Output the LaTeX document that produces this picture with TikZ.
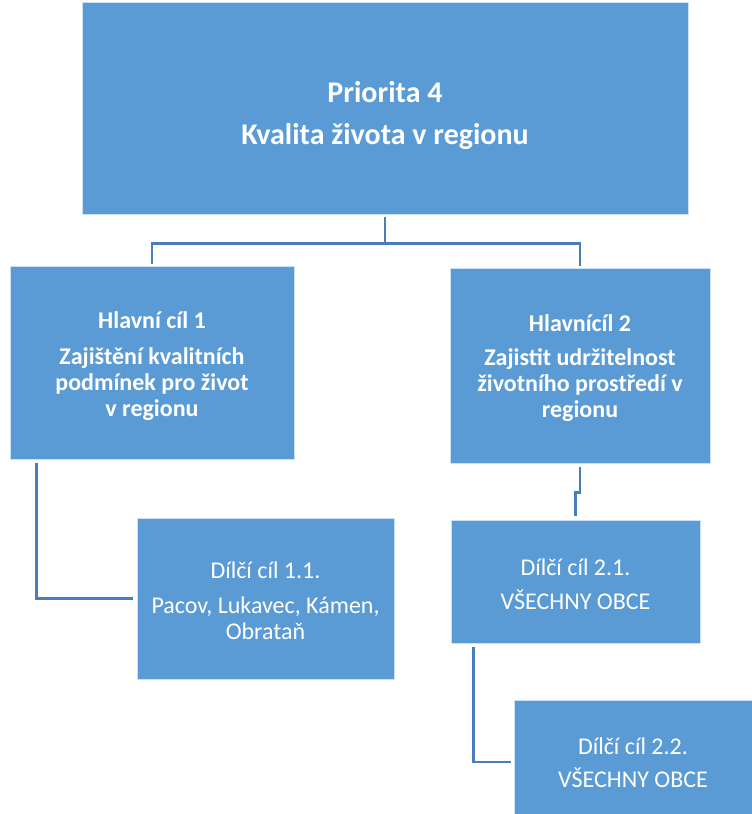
\documentclass[tikz,border=0pt]{standalone}
\usepackage{fontspec}
\setmainfont{Carlito}
\usetikzlibrary{calc}
\usetikzlibrary{positioning}

\definecolor{boxblue}{HTML}{5B9BD5}
\definecolor{lineblue}{HTML}{4A7EBB}
% strut that lowers the first line a little
\newcommand{\toppad}[1]{\rule{0pt}{#1}}

\tikzset{
  goalbox/.style={draw=white!70!boxblue, line width=.8pt, fill=boxblue, text=white,
    align=center, inner sep=0pt},
  link/.style={draw=lineblue, line width=2.6pt},
}

\begin{document}
\begin{tikzpicture} [x=1pt, y=-1pt]
\useasboundingbox (0,0) rectangle (752,814);
% priority
\node[goalbox, minimum width=606pt, minimum height=212pt,
  font=\fontsize{30}{42}\selectfont\bfseries] (prio) at (385,108)
  {\toppad{36pt}Priorita 4\\Kvalita života v regionu};
% main goals
\node[goalbox, minimum width=284pt, minimum height=193pt,
  font=\fontsize{24}{26}\selectfont\bfseries] (cil1) at (152,362.5)
  {\toppad{25pt}Hlavní cíl 1\\[10pt]Zajištění kvalitních\\podmínek pro život\\v regionu};
\node[goalbox, minimum width=260pt, minimum height=195pt,
  font=\fontsize{24}{26}\selectfont\bfseries] (cil2) at (580,365.5)
  {\toppad{23pt}Hlavnícíl 2\\[8pt]Zajistit udržitelnost\\životního prostředí v\\regionu};
% partial goals
\node[goalbox, minimum width=257pt, minimum height=161pt,
  font=\fontsize{24}{26}\selectfont] (d11) at (265.5,598.5)
  {\toppad{21pt}Dílčí cíl 1.1.\\[9pt]Pacov, Lukavec, Kámen,\\Obrataň};
\node[goalbox, minimum width=249pt, minimum height=123pt,
  font=\fontsize{24}{26}\selectfont] (d21) at (575.5,581.5)
  {\toppad{22pt}Dílčí cíl 2.1.\\[8pt]VŠECHNY OBCE};
\node[goalbox, minimum width=238pt, minimum height=114pt,
  font=\fontsize{24}{26}\selectfont] (d22) at (633,757)
  {\toppad{28pt}Dílčí cíl 2.2.\\[7pt]VŠECHNY OBCE};

% connectors
\draw[link] ($(prio.south)+(0,3)$) -- ++(0,26) -| ($(cil1.north)+(0,-2)$);
\draw[link] ($(prio.south)+(0,3)$) -- ++(0,26) -| ($(cil2.north)+(0,-2)$);
\draw[link] ($(cil1.south west)+(27,4)$) |- ($(d11.west)+(-4,0)$);
\draw[link] ($(cil2.south)+(0,4)$) -- ++(0,25) -| ($(d21.north)+(0,-4)$);
\draw[link] ($(d21.south west)+(23,4)$) |- ($(d22.west)+(-3,5)$);
\end{tikzpicture}
\end{document}
